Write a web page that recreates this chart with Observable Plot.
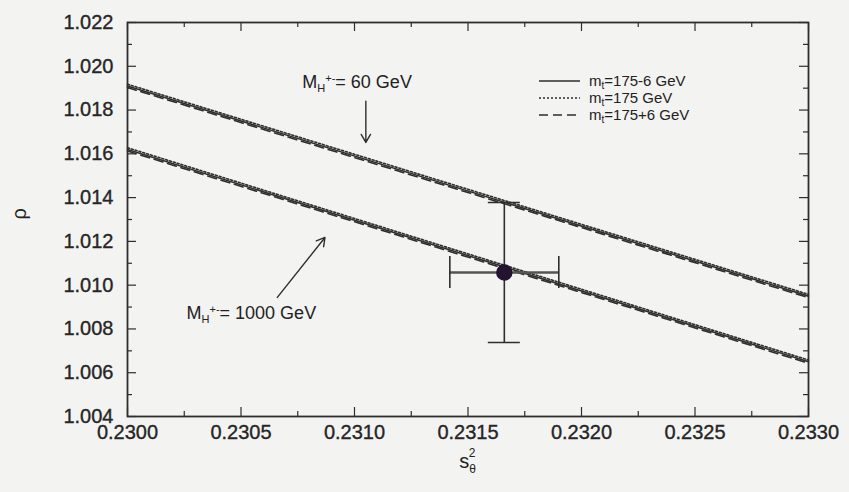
<!DOCTYPE html>
<html><head><meta charset="utf-8">
<script src="https://cdn.jsdelivr.net/npm/d3@7"></script>
<script src="https://cdn.jsdelivr.net/npm/@observablehq/plot@0.6"></script>
<style>
body{margin:0;background:#f3f3f1;}
svg{font-family:"Liberation Sans",Arial,Helvetica,sans-serif;}
</style>
</head><body><div id="chart"></div>
<script>
// ---- data ----
const xTicks = [0.2300, 0.2305, 0.2310, 0.2315, 0.2320, 0.2325, 0.2330];
const xMinor = [0.23025, 0.23075, 0.23125, 0.23175, 0.23225, 0.23275];
const yTicks = [1.004, 1.006, 1.008, 1.010, 1.012, 1.014, 1.016, 1.018, 1.020, 1.022];
const yMinor = [1.005, 1.007, 1.009, 1.011, 1.013, 1.015, 1.017, 1.019, 1.021];
const sEnds = [0.2300, 0.2330];
// M_H+- = 60 GeV band
const up_solid  = [1.0191, 1.0095];
const up_dotted = [1.01918, 1.00958];
const up_dashed = [1.01903, 1.00943];
// M_H+- = 1000 GeV band
const lo_solid  = [1.0162, 1.0065];
const lo_dotted = [1.01628, 1.00658];
const lo_dashed = [1.01613, 1.00643];
// measured point with errors
const pointS = [0.23166];
const pointRho = [1.01058];
const sErr = [0.23142, 0.23190];
const rhoErr = [1.00738, 1.01378];
// annotations
const annTexts = ["= 60 GeV", "= 1000 GeV"];
const annS = [0.23077, 0.23026];
const annRho = [1.01926, 1.00871];
const arrowS1 = [0.23105, 0.23066];
const arrowR1 = [1.01840, 1.00944];
const arrowS2 = [0.23105, 0.23087];
const arrowR2 = [1.01652, 1.01218];
const legendLabels = ["175-6 GeV", "175 GeV", "175+6 GeV"];
const legendDash = [null, "2,2", "9,5"];

// ---- layout ----
const W = 849, H = 492, ML = 127, MR = 41, MT = 22, MB = 76;
const PW = W - ML - MR, PH = H - MT - MB;
const ink = "#2e2e2e";

const mk = (ys, dash) => Plot.line(sEnds.map((s, i) => ({s, r: ys[i]})),
  {x: "s", y: "r", stroke: ink, strokeWidth: 1.6, strokeDasharray: dash});

const xs = d3.scaleLinear([0.2300, 0.2330], [ML, W - MR]);
const ys = d3.scaleLinear([1.004, 1.022], [H - MB, MT]);
const capHalf = 16;

const plot = Plot.plot({
  width: W, height: H,
  marginLeft: ML, marginRight: MR, marginTop: MT, marginBottom: MB,
  x: {domain: [0.2300, 0.2330]},
  y: {domain: [1.004, 1.022]},
  style: {background: "transparent", fontSize: "20px", color: "#262626", fontFamily: "'Liberation Sans', Arial, sans-serif"},
  marks: [
    Plot.axisX(xTicks, {anchor: "bottom", tickSize: 0, tickPadding: 8, tickFormat: d => d.toFixed(4), label: null, fontSize: 20}),
    Plot.axisY(yTicks, {anchor: "left", tickSize: 0, tickPadding: 14, tickFormat: d => d.toFixed(3), label: null, fontSize: 20}),
    // inward ticks
    Plot.tickX(xTicks, {x: d => d, insetTop: PH - 9, stroke: ink, strokeWidth: 1.2}),
    Plot.tickX(xTicks, {x: d => d, insetBottom: PH - 9, stroke: ink, strokeWidth: 1.2}),
    Plot.tickX(xMinor, {x: d => d, insetTop: PH - 5, stroke: ink, strokeWidth: 1.2}),
    Plot.tickX(xMinor, {x: d => d, insetBottom: PH - 5, stroke: ink, strokeWidth: 1.2}),
    Plot.tickY(yTicks, {y: d => d, insetRight: PW - 9, stroke: ink, strokeWidth: 1.2}),
    Plot.tickY(yTicks, {y: d => d, insetLeft: PW - 9, stroke: ink, strokeWidth: 1.2}),
    Plot.tickY(yMinor, {y: d => d, insetRight: PW - 5, stroke: ink, strokeWidth: 1.2}),
    Plot.tickY(yMinor, {y: d => d, insetLeft: PW - 5, stroke: ink, strokeWidth: 1.2}),
    Plot.frame({stroke: ink, strokeWidth: 1.8}),
    mk(up_solid, null), mk(up_dotted, "2,2"), mk(up_dashed, "9,5"),
    mk(lo_solid, null), mk(lo_dotted, "2,2"), mk(lo_dashed, "9,5"),
    // error bars
    Plot.ruleX(pointS, {x: d => d, y1: rhoErr[0], y2: rhoErr[1], stroke: ink, strokeWidth: 1.6}),
    Plot.ruleY(pointRho, {y: d => d, x1: sErr[0], x2: sErr[1], stroke: "#555", strokeWidth: 2.4}),
    Plot.tickY(rhoErr, {y: d => d, insetLeft: xs(pointS[0]) - ML - capHalf, insetRight: W - MR - xs(pointS[0]) - capHalf, stroke: ink, strokeWidth: 1.6}),
    Plot.tickX(sErr, {x: d => d, insetTop: ys(pointRho[0]) - MT - capHalf, insetBottom: H - MB - ys(pointRho[0]) - capHalf, stroke: ink, strokeWidth: 1.6}),
    Plot.dot(pointS, {x: d => d, y: pointRho[0], r: 7.5, fill: "#24142f", stroke: "#24142f"}),
    // annotations
    Plot.arrow(annS, {x1: (d, i) => arrowS1[i], y1: (d, i) => arrowR1[i], x2: (d, i) => arrowS2[i], y2: (d, i) => arrowR2[i], stroke: ink, strokeWidth: 1.4, headLength: 10}),
    Plot.text(annTexts, {x: (d, i) => annS[i], y: (d, i) => annRho[i], text: d => d, fontSize: 18, fill: "#222", textAnchor: "start", lineAnchor: "middle"}),
    Plot.text(["ρ"], {frameAnchor: "left", dx: -108, rotate: -90, fontSize: 20, fill: "#222"})
  ]
});
document.getElementById("chart").append(plot);

const svg = d3.select(plot);
// thicken scanned-looking tick labels slightly
svg.selectAll("g[aria-label='x-axis tick label'] text, g[aria-label='y-axis tick label'] text")
  .attr("stroke", "#262626").attr("stroke-width", 0.35);
// rebuild annotation texts as M_H+- = ...
svg.selectAll("text").filter(function() { return annTexts.includes(this.textContent); })
  .each(function() {
    const t = d3.select(this);
    const rest = this.textContent;
    t.text(null);
    t.append("tspan").text("M");
    t.append("tspan").attr("font-size", 11).attr("dy", 4).text("H");
    t.append("tspan").attr("font-size", 11).attr("dy", -10).text("+-");
    t.append("tspan").attr("dy", 6).text(rest);
  });
// x axis title s_θ^2
const xt = svg.append("text").attr("x", ML + PW / 2).attr("y", H - 24)
  .attr("text-anchor", "middle").attr("font-size", 20).attr("fill", "#222");
xt.append("tspan").text("s");
xt.append("tspan").attr("font-size", 12).attr("dy", 5).text("θ");
xt.append("tspan").attr("font-size", 12).attr("dx", -7).attr("dy", -16).text("2");
// legend
const lg = svg.append("g");
legendLabels.forEach((lab, i) => {
  const y = 81 + i * 17;
  lg.append("line").attr("x1", 539).attr("x2", 580).attr("y1", y).attr("y2", y)
    .attr("stroke", ink).attr("stroke-width", 1.5).attr("stroke-dasharray", legendDash[i]);
  const tx = lg.append("text").attr("x", 589).attr("y", y + 5).attr("font-size", 15)
    .attr("fill", "#222").attr("text-anchor", "start");
  tx.append("tspan").text("m");
  tx.append("tspan").attr("font-size", 10).attr("dy", 3).text("t");
  tx.append("tspan").attr("dy", -3).text("=" + lab);
});
</script>
</body></html>
